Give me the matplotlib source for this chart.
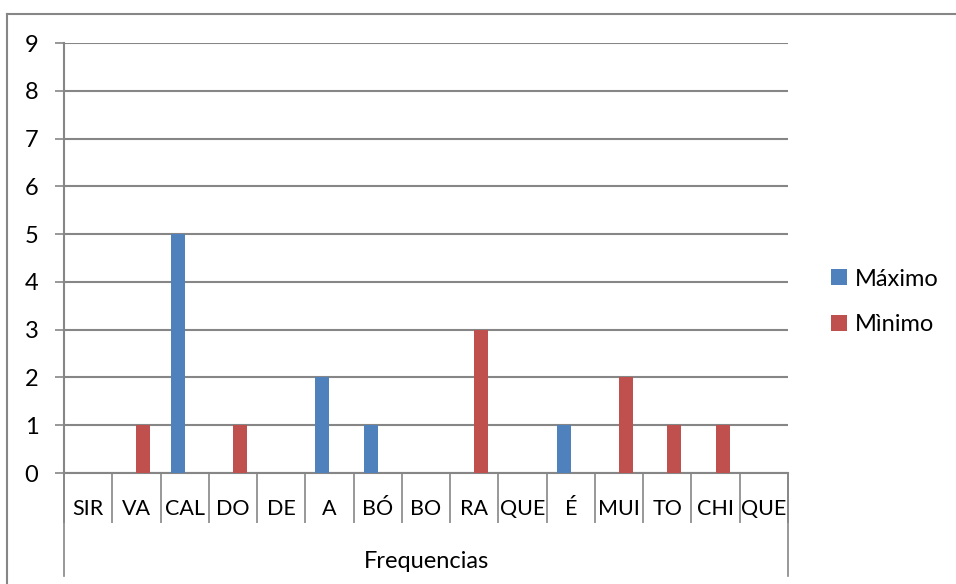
import matplotlib
matplotlib.use('Agg')
import matplotlib.pyplot as plt
from matplotlib.lines import Line2D
import numpy as np

# data
categories = ["SIR", "VA", "CAL", "DO", "DE", "A", "BÓ", "BO", "RA", "QUE", "É", "MUI", "TO", "CHI", "QUE"]
maximo = [0, 0, 5, 0, 0, 2, 1, 0, 0, 0, 1, 0, 0, 0, 0]
minimo = [0, 1, 0, 1, 0, 0, 0, 0, 3, 0, 0, 2, 1, 1, 0]
group_label = "Frequencias"
series_names = ["Máximo", "Mìnimo"]
yticks = list(range(0, 10))

plt.rcParams['font.family'] = ['Lato', 'DejaVu Sans']
grey = '#868686'
W, H = 956, 584
fs = 17
fs_cat = 15.5

fig = plt.figure(figsize=(W / 100, H / 100), dpi=100)
# plot area in pixels: x 64..788, y 43..473
ax = fig.add_axes([64 / W, (H - 473) / H, (788 - 64) / W, (473 - 43) / H])

x = np.arange(len(categories))
bw = 0.29
ax.bar(x - bw / 2, maximo, bw, color='#4F81BD', label=series_names[0], zorder=3)
ax.bar(x + bw / 2, minimo, bw, color='#C0504D', label=series_names[1], zorder=3)

ax.set_xlim(-0.5, len(categories) - 0.5)
ax.set_ylim(0, 9)
ax.set_yticks(yticks)
ax.yaxis.grid(True, color=grey, lw=1.5, zorder=0)
ax.tick_params(axis='y', direction='out', length=6.5, width=1.2, color=grey,
               labelsize=fs, pad=12)

# category separators as long outward x ticks
ax.set_xticks(np.arange(-0.5, len(categories), 1.0))
ax.set_xticklabels([])
ax.tick_params(axis='x', direction='out', length=36, width=1.2, color=grey)

for s in ['top', 'right']:
    ax.spines[s].set_visible(False)
for s in ['left', 'bottom']:
    ax.spines[s].set_color(grey)
    ax.spines[s].set_linewidth(1.5)

axh = 473 - 43
tr = ax.get_xaxis_transform()
for i, c in enumerate(categories):
    ax.text(i, -(509 - 473) / axh, c, transform=tr, ha='center', va='center', fontsize=fs_cat)
ax.text((len(categories) - 1) / 2, -(561 - 473) / axh, group_label, transform=tr,
        ha='center', va='center', fontsize=fs)

# outer group lines
for xe in [-0.5, len(categories) - 0.5]:
    ax.plot([xe, xe], [0, -(576 - 473) / axh], transform=tr, color=grey, lw=1.2,
            clip_on=False)

fig.legend(loc='center left', bbox_to_anchor=(810 / W, (H - 302) / H), frameon=False,
           handlelength=0.65, handleheight=0.65, handletextpad=0.35, labelspacing=1.05,
           fontsize=fs)

# chart border (top and left visible)
fig.add_artist(Line2D([7 / W, 7 / W], [0, (H - 14) / H], color=grey, lw=1.5))
fig.add_artist(Line2D([7 / W, 1], [(H - 14) / H, (H - 14) / H], color=grey, lw=1.5))

fig.savefig('out.png', dpi=100)
